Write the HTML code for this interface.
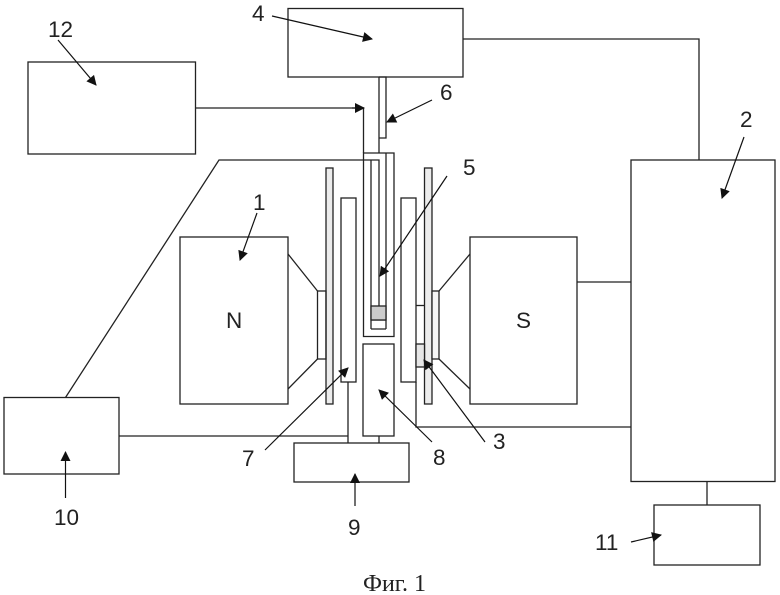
<!DOCTYPE html>
<html><head><meta charset="utf-8"><style>
html,body{margin:0;padding:0;background:#fff}
svg{display:block}
text{font-family:"Liberation Sans",sans-serif;font-size:22.500px;fill:#222}
</style></head><body>
<svg width="780" height="595" viewBox="0 0 780 595" xmlns="http://www.w3.org/2000/svg">
<defs><marker id="a" viewBox="0 0 10 10" refX="9" refY="5" markerWidth="11" markerHeight="10" markerUnits="userSpaceOnUse" orient="auto"><path d="M0 0L10 5L0 10Z" fill="#111"/></marker></defs>
<g fill="none" stroke="#222" stroke-width="1.3">
<rect x="288" y="8.5" width="175" height="68.5" fill="#fff"/>
<rect x="28" y="62" width="167.500" height="92"/>
<rect x="631" y="160" width="144" height="321.500"/>
<rect x="654" y="505" width="106" height="60"/>
<rect x="4" y="397.500" width="115" height="76.500"/>
<rect x="180" y="237" width="108" height="167"/>
<rect x="470" y="237" width="107" height="167"/>
<rect x="294" y="443" width="115" height="39"/>
<rect x="363" y="344" width="31" height="92"/>
<rect x="341" y="198" width="15" height="184"/>
<rect x="401" y="198" width="15" height="184"/>
<rect x="326" y="168" width="7" height="236" fill="#ececec"/>
<rect x="424.500" y="168" width="7.500" height="236" fill="#ececec"/>
<rect x="317.500" y="291" width="8.500" height="68"/>
<rect x="432" y="291" width="7" height="68" fill="#f6f6f6"/>
<rect x="416" y="344" width="8.500" height="23" fill="#e6e6e6"/>
<path d="M416 305.500H424.500"/>
<path d="M288 254L317.500 291M288 389L317.500 359M470 254L439 291M470 389L439 359"/>
<path d="M363.500 336.500V153H394V336.500Z"/>
<path d="M371 329V160M386 153V329M371 329H386M371 320H386"/>
<rect x="371" y="306" width="15" height="14" fill="#ccc"/>
<path d="M379 77H386V138H379V77M379 138V153"/>
<path d="M463 39H699V160"/>
<path d="M577 282H631"/>
<path d="M707 481.500V505"/>
<path d="M196 108H363.500V153"/>
<path d="M65.500 397.500L219 160H379V306"/>
<path d="M119 436H348M348 382V443M379 436V443"/>
<path d="M416 382V427H631"/>
</g>
<g fill="none" stroke="#111" stroke-width="1.200">
<path d="M58 40L96 85" marker-end="url(#a)"/>
<path d="M272 16L372 39" marker-end="url(#a)"/>
<path d="M432 100L387 122" marker-end="url(#a)"/>
<path d="M447 176L380 276" marker-end="url(#a)"/>
<path d="M744 137L722 198" marker-end="url(#a)"/>
<path d="M257 213L240 260" marker-end="url(#a)"/>
<path d="M265 450L348 368" marker-end="url(#a)"/>
<path d="M432 442L379 390" marker-end="url(#a)"/>
<path d="M485 442L424 360" marker-end="url(#a)"/>
<path d="M355 506L355 474" marker-end="url(#a)"/>
<path d="M65.500 498L65.500 452" marker-end="url(#a)"/>
<path d="M631 542L661 535" marker-end="url(#a)"/>
<path d="M352 108H364" marker-end="url(#a)"/>
</g>
<text x="48" y="37">12</text>
<text x="252" y="21">4</text>
<text x="440" y="100">6</text>
<text x="463" y="175">5</text>
<text x="740" y="127">2</text>
<text x="253" y="210">1</text>
<text x="226" y="328">N</text>
<text x="516" y="328">S</text>
<text x="242" y="466">7</text>
<text x="433" y="465">8</text>
<text x="493" y="449">3</text>
<text x="348" y="535">9</text>
<text x="54" y="525">10</text>
<text x="595" y="550">11</text>
<text x="363" y="591" style="font-family:'Liberation Serif',serif;font-size:24px">Фиг. 1</text>
</svg>
</body></html>
